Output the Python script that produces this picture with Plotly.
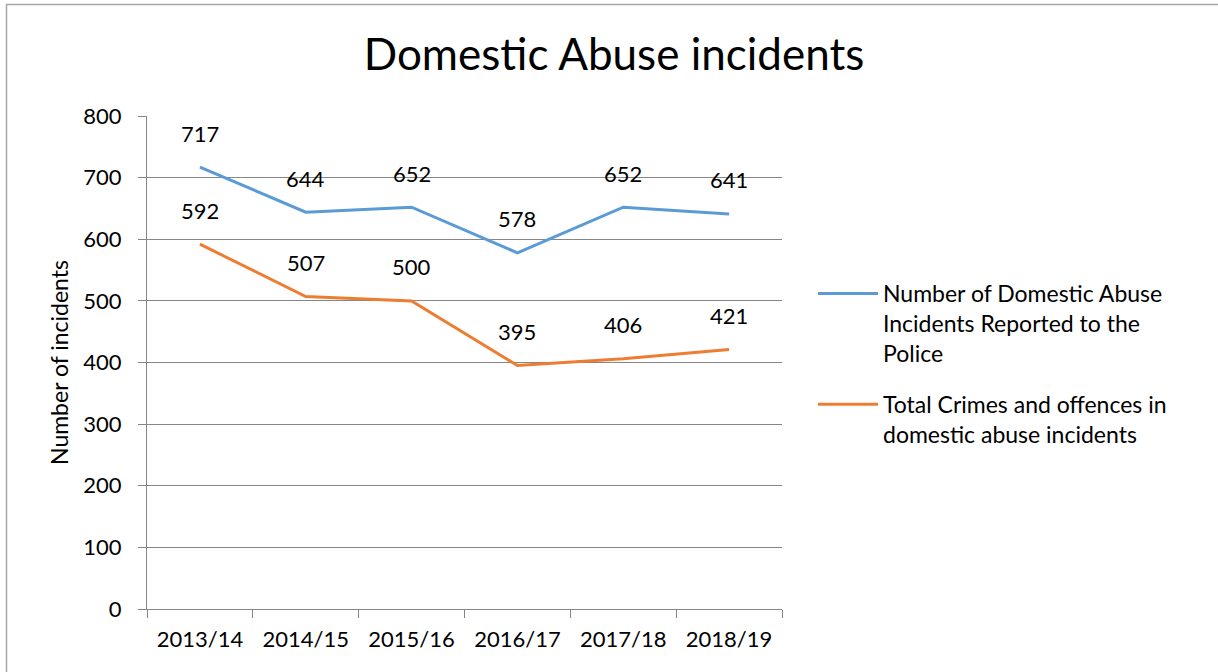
import plotly.graph_objects as go

categories = ["2013/14", "2014/15", "2015/16", "2016/17", "2017/18", "2018/19"]
reported = [717, 644, 652, 578, 652, 641]
crimes = [592, 507, 500, 395, 406, 421]
series_names = [
    "Number of Domestic Abuse<br>Incidents Reported to the<br>Police",
    "Total Crimes and offences in<br>domestic abuse incidents",
]
colors = ["#5B9BD5", "#ED7D31"]
y_ticks = [0, 100, 200, 300, 400, 500, 600, 700, 800]

FONT = "Lato, Calibri, Carlito, sans-serif"
W, H = 1218, 672
L, R, T, B = 147, 436, 116, 63
pw, ph = W - L - R, H - T - B

fig = go.Figure()
for i, (vals, name, col) in enumerate(zip([reported, crimes], series_names, colors)):
    fig.add_trace(go.Scatter(
        x=categories, y=vals, mode="lines", name=name, legendgroup=f"g{i}",
        line=dict(color=col, width=3),
    ))
    for c, v in zip(categories, vals):
        fig.add_annotation(
            x=c, y=v, text=str(v), showarrow=False, yshift=34,
            font=dict(family=FONT, size=22, color="#000000"),
        )

# outer chart border
fig.add_shape(
    type="rect", xref="paper", yref="paper",
    x0=(6.5 - L) / pw, x1=(1230 - L) / pw,
    y0=(H - 700 - B) / ph, y1=(H - 4.5 - B) / ph,
    line=dict(color="#A6A6A6", width=1.5), fillcolor="rgba(0,0,0,0)", layer="below",
)

fig.update_layout(
    width=W, height=H,
    margin=dict(l=L, r=R, t=T, b=B),
    paper_bgcolor="white", plot_bgcolor="white",
    font=dict(family=FONT, color="#000000"),
    title=dict(text="Domestic Abuse incidents", x=614 / W, xanchor="center",
               y=1 - 55 / H, yanchor="middle",
               font=dict(family=FONT, size=44, color="#000000")),
    xaxis=dict(
        type="category", tickson="boundaries", ticks="outside", ticklen=8,
        tickcolor="#868686", showline=True, linecolor="#868686", linewidth=1,
        showgrid=False, tickfont=dict(family=FONT, size=22), range=[-0.5, 5.5],
        zeroline=False, ticklabelstandoff=11,
    ),
    yaxis=dict(
        range=[0, 800], tickvals=y_ticks, ticks="outside", ticklen=8,
        tickcolor="#868686", showline=True, linecolor="#868686", linewidth=1,
        showgrid=True, gridcolor="#868686", gridwidth=1, zeroline=False,
        tickfont=dict(family=FONT, size=22), ticklabelstandoff=12,
        title=dict(text="Number of incidents", font=dict(family=FONT, size=23), standoff=8),
    ),
    legend=dict(
        x=(813 - L) / pw, xanchor="left", y=(H - 272 - B) / ph, yanchor="top",
        font=dict(family=FONT, size=23), valign="top", itemwidth=60,
        tracegroupgap=18, bgcolor="rgba(0,0,0,0)",
    ),
    showlegend=True,
)

fig.write_html("out.html", config={"displayModeBar": False},
               post_script="document.body.style.margin='0';")
